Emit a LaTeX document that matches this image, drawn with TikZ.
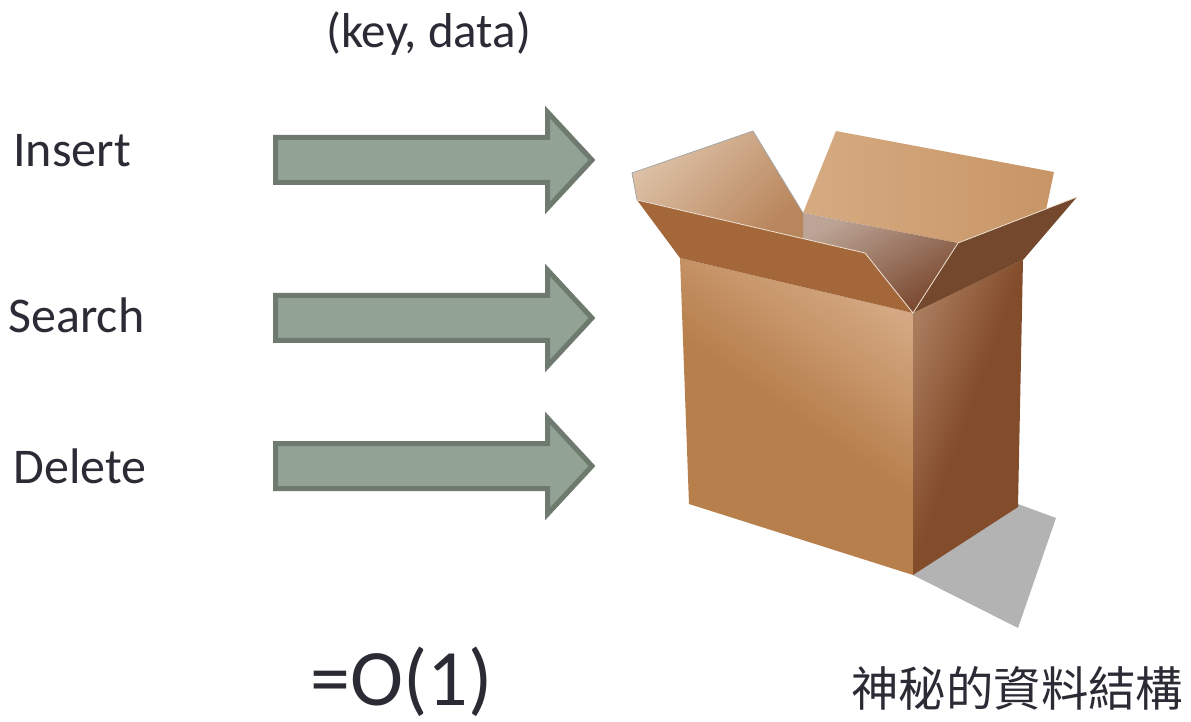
\documentclass[tikz,border=0pt]{standalone}
\usepackage{fontspec}
\setmainfont{Carlito}
\newfontfamily\cjk{Noto Sans CJK TC}
\usetikzlibrary{positioning}
\definecolor{txtdark}{RGB}{43,43,53}
\definecolor{arfill}{RGB}{146,163,150}
\definecolor{arline}{RGB}{110,122,110}
\definecolor{boxfront}{RGB}{183,127,76}
\definecolor{boxlight}{RGB}{212,168,130}
\definecolor{boxside}{RGB}{131,76,42}
\definecolor{boxsidelt}{RGB}{170,124,94}
\definecolor{flapfront}{RGB}{163,103,58}
\definecolor{flapright}{RGB}{115,72,44}
\definecolor{flapleftA}{RGB}{222,194,168}
\definecolor{flapleftB}{RGB}{184,134,92}
\definecolor{flapbackA}{RGB}{214,171,130}
\definecolor{flapbackB}{RGB}{199,149,102}
\definecolor{insideA}{RGB}{188,164,150}
\definecolor{insideB}{RGB}{120,70,44}
\definecolor{shadowgray}{RGB}{179,179,179}
\definecolor{flapedge}{RGB}{240,225,210}

\begin{document}
\begin{tikzpicture}[x=0.5pt, y=-0.5pt,
  oparrow/.style={fill=arfill, draw=arline, line width=2.5pt, miter limit=10},
  oplabel/.style={anchor=base west, inner sep=0pt, text=txtdark, font=\fontsize{25}{30}\selectfont}]
\useasboundingbox (0,0) rectangle (1191,722);
% -- Left: operations and block arrows --
\node[oplabel, font=\fontsize{24.5}{28}\selectfont] (keydata) at (326,48) {(key, data)};
\node[oplabel] (insert) at (13,167) {Insert};
\node[oplabel] (search) at (8,333) {Search};
\node[oplabel] (delete) at (13,483) {Delete};
\foreach \y in {160,318,466}
  \draw[oparrow] (275.5,\y-22.5) -- (547.5,\y-22.5) -- (547.5,\y-48)
    -- (592,\y) -- (547.5,\y+48) -- (547.5,\y+22.5) -- (275.5,\y+22.5) -- cycle;
\node[oplabel, font=\fontsize{40}{46}\selectfont] (cost) at (310,705) {=O(1)};
% -- Right: the open box --
\fill[shadowgray] (913,575) -- (1018,504) -- (1056,518) -- (1018,628) -- cycle;
\shade[left color=flapbackA, right color=flapbackB]
  (803,213) -- (836,131) -- (1054,172) -- (1045,215) -- (958,243) -- cycle;
\shade[top color=flapleftA, bottom color=flapleftB, shading angle=45, draw=gray!70, line width=0.4pt]
  (637,200) -- (632,173) -- (753,131) -- (803,213) -- (803,239) -- cycle;
\shade[top color=insideA, bottom color=insideB, shading angle=30]
  (803,213) -- (958,243) -- (913,313) -- (865,253) -- (803,239) -- cycle;
\fill[flapleftB] (768,228) -- (803,213) -- (803,238) -- cycle;
\shade[top color=boxlight, bottom color=boxfront, middle color=boxfront, shading angle=-35]
  (680,258) -- (913,313) -- (913,575) -- (689,504) -- cycle;
\shade[left color=boxsidelt, right color=boxside, middle color=boxside, shading angle=70]
  (913,313) -- (1023,260) -- (1018,507) -- (913,575) -- cycle;
\fill[flapright] (958,243) -- (1077,197) -- (1023,260) -- (913,313) -- cycle;
\fill[flapfront] (637,200) -- (865,253) -- (913,313) -- (680,258) -- cycle;
\draw[flapedge, line width=0.4pt] (637,200) -- (865,253) -- (913,313) -- (958,243) -- (1077,197);
\node[anchor=base west, inner sep=0pt, text=txtdark, font=\cjk\fontsize{23.7}{28}\selectfont]
  (caption) at (851,706) {神秘的資料結構};
\end{tikzpicture}
\end{document}
